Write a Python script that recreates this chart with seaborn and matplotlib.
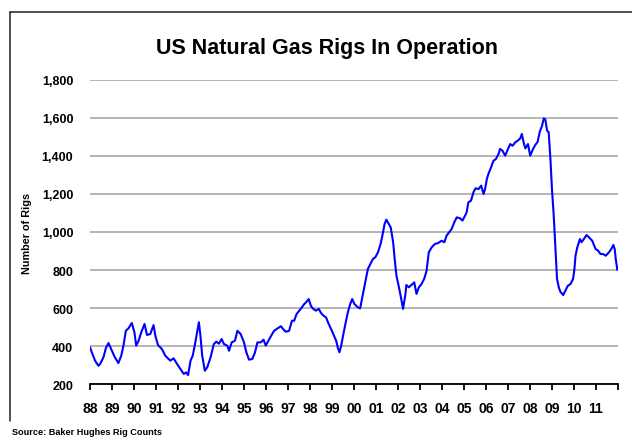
import matplotlib
matplotlib.use("Agg")
import matplotlib.pyplot as plt
import matplotlib.ticker as mticker
import pandas as pd
import seaborn as sns
from matplotlib.lines import Line2D

# values (decimal year, rigs)
years = [
    1988.00, 1988.11, 1988.23, 1988.38, 1988.46, 1988.61, 1988.72, 1988.84, 1988.96,
    1989.11, 1989.29, 1989.42, 1989.52, 1989.63, 1989.75, 1989.90,
    1990.02, 1990.10, 1990.21, 1990.33, 1990.48, 1990.59, 1990.74, 1990.89, 1990.97,
    1991.09, 1991.27, 1991.42, 1991.65, 1991.80, 1991.96,
    1992.16, 1992.26, 1992.37, 1992.46, 1992.57, 1992.67, 1992.76, 1992.87, 1992.95,
    1993.02, 1993.10, 1993.22, 1993.33, 1993.48, 1993.63, 1993.74, 1993.86, 1993.98,
    1994.09, 1994.24, 1994.32, 1994.44, 1994.59, 1994.70, 1994.85,
    1995.00, 1995.11, 1995.23, 1995.38, 1995.50, 1995.61, 1995.76, 1995.89, 1995.99,
    1996.11, 1996.22, 1996.37, 1996.53, 1996.68, 1996.78, 1996.90,
    1997.05, 1997.18, 1997.28, 1997.39, 1997.51, 1997.63, 1997.74, 1997.82, 1997.94,
    1998.05, 1998.15, 1998.27, 1998.40, 1998.50, 1998.61, 1998.73, 1998.85, 1998.96,
    1999.06, 1999.19, 1999.27, 1999.34, 1999.42, 1999.49, 1999.61, 1999.72, 1999.83, 1999.92,
    2000.02, 2000.18, 2000.28, 2000.41, 2000.51, 2000.63, 2000.75, 2000.86, 2000.97,
    2001.09, 2001.21, 2001.32, 2001.39, 2001.47, 2001.58, 2001.67, 2001.78, 2001.85, 2001.93,
    2002.03, 2002.12, 2002.23, 2002.34, 2002.38, 2002.49, 2002.61, 2002.74, 2002.84, 2002.95,
    2003.07, 2003.19, 2003.30, 2003.40, 2003.53, 2003.68, 2003.83, 2003.98,
    2004.11, 2004.21, 2004.32, 2004.44, 2004.56, 2004.67, 2004.82, 2004.93,
    2005.05, 2005.12, 2005.20, 2005.32, 2005.43, 2005.53, 2005.66, 2005.78, 2005.89, 2005.96,
    2006.04, 2006.11, 2006.23, 2006.34, 2006.45, 2006.57, 2006.64, 2006.75, 2006.87,
    2007.00, 2007.10, 2007.21, 2007.33, 2007.45, 2007.56, 2007.63, 2007.71, 2007.79, 2007.91,
    2008.01, 2008.14, 2008.24, 2008.35, 2008.44, 2008.55, 2008.63, 2008.70, 2008.78, 2008.85, 2008.93,
    2009.00, 2009.08, 2009.16, 2009.23, 2009.31, 2009.38, 2009.51, 2009.61, 2009.72, 2009.84, 2009.96,
    2010.02, 2010.07, 2010.15, 2010.27, 2010.34, 2010.45, 2010.57, 2010.68, 2010.83, 2010.98,
    2011.09, 2011.21, 2011.33, 2011.44, 2011.59, 2011.70, 2011.79, 2011.85, 2011.90, 2011.97,
]
rigs = [
    393, 358, 323, 296, 305, 340, 388, 416, 384,
    345, 310, 349, 402, 480, 493, 521,
    472, 402, 428, 472, 516, 458, 463, 510, 454,
    405, 384, 349, 323, 335, 305,
    270, 253, 261, 247, 323, 349, 402, 472, 525,
    454, 349, 270, 288, 340, 410, 423, 412, 437,
    410, 402, 375, 419, 428, 480, 463,
    419, 366, 328, 332, 366, 419, 419, 433, 402,
    428, 451, 480, 493, 504, 489, 475,
    480, 533, 533, 568, 586, 603, 621, 630, 647,
    609, 595, 586, 595, 574, 560, 551, 516, 489,
    463, 428, 388, 367, 402, 446, 516, 577, 621, 647,
    621, 603, 598, 674, 735, 805, 832, 858, 867,
    893, 937, 998, 1042, 1065, 1042, 1024, 946, 858, 770,
    717, 665, 595, 674, 721, 709, 721, 735, 674, 709,
    726, 753, 796, 893, 919, 937, 942, 954,
    946, 981, 998, 1016, 1051, 1077, 1072, 1060,
    1086, 1103, 1156, 1165, 1209, 1230, 1226, 1244, 1200, 1226,
    1279, 1305, 1340, 1375, 1384, 1410, 1437, 1428, 1402,
    1437, 1463, 1454, 1472, 1481, 1493, 1516, 1472, 1440, 1463,
    1402, 1437, 1458, 1475, 1525, 1560, 1598, 1591, 1533, 1525, 1384,
    1226, 1086, 911, 753, 709, 686, 668, 691, 717, 726, 753,
    805, 875, 919, 963, 946, 963, 984, 972, 954, 911,
    902, 884, 884, 875, 893, 911, 932, 911, 858, 801,
]

tick_years = list(range(1988, 2013))
tick_labels = [f"{y % 100:02d}" for y in tick_years[:-1]] + [""]
y_ticks = list(range(200, 1801, 200))

title = "US Natural Gas Rigs In Operation"
y_title = "Number of Rigs"
source = "Source: Baker Hughes Rig Counts"

sns.set_theme(style="white")
plt.rcParams["font.family"] = ["Liberation Sans", "DejaVu Sans"]

df = pd.DataFrame({"year": years, "rigs": rigs})

fig = plt.figure(figsize=(6.32, 4.39), dpi=100)
ax = fig.add_axes([0.1424, 0.123, 0.8354, 0.6925])

sns.lineplot(data=df, x="year", y="rigs", color="#0000ff", linewidth=1.5, ax=ax)

ax.set_xlim(1988, 2012)
ax.set_ylim(200, 1800)
ax.set_xticks(tick_years)
ax.set_xticklabels(tick_labels, fontsize=10, fontweight="bold")
ax.set_yticks(y_ticks)
ax.yaxis.set_major_formatter(mticker.FuncFormatter(lambda v, _: f"{int(v):,}"))
for lab in ax.get_yticklabels():
    lab.set_fontweight("bold")
    lab.set_fontsize(9)
ax.set_xlabel("")
ax.set_ylabel("")

ax.yaxis.grid(True, color="#b4b4b4", linewidth=1.4)
ax.set_axisbelow(True)
for s in ("left", "top", "right"):
    ax.spines[s].set_visible(False)
ax.spines["bottom"].set_color("black")
ax.spines["bottom"].set_linewidth(1.3)
ax.tick_params(axis="x", direction="out", length=4, width=1.3, color="black",
               pad=8, labelcolor="black", bottom=True)
ax.tick_params(axis="y", length=0, pad=12, labelcolor="black")

fig.text(0.518, 0.889, title, ha="center", va="center",
         fontsize=15.5, fontweight="bold", color="black")
fig.text(0.042, 0.469, y_title, ha="center", va="center", rotation=90,
         fontsize=7.8, fontweight="bold", color="black")
fig.text(0.019, 0.0137, source, ha="left", va="center",
         fontsize=6.6, fontweight="bold", color="black")

# frame lines of the original chart box
fig.add_artist(Line2D([0.0153, 1.0], [0.9715, 0.9715], transform=fig.transFigure,
                      color="#222222", linewidth=1.1))
fig.add_artist(Line2D([0.0153, 0.0153], [0.9715, 0.0387], transform=fig.transFigure,
                      color="#222222", linewidth=1.1))

fig.savefig("out.png", dpi=100)
plt.close(fig)
